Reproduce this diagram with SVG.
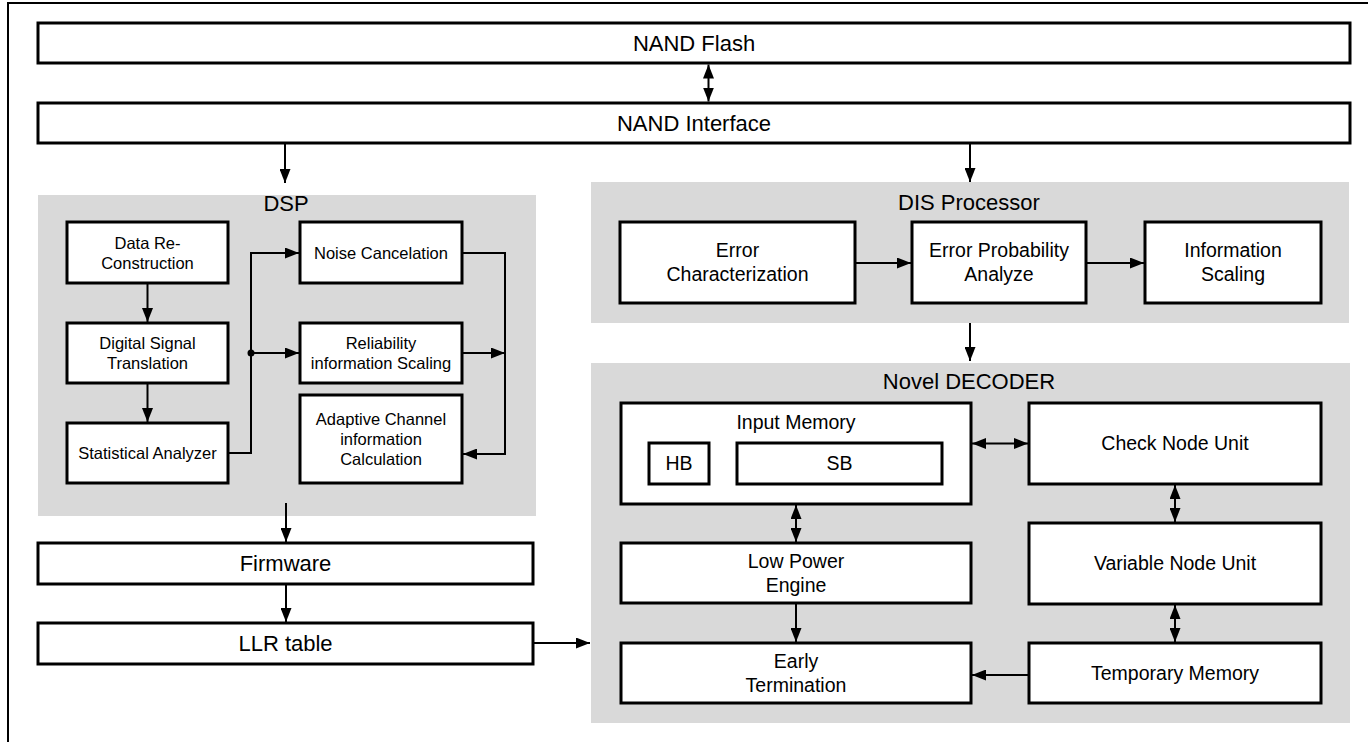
<svg xmlns="http://www.w3.org/2000/svg" width="1368" height="742" viewBox="0 0 1368 742">
  <style>
    .frame { fill: none; stroke: #000; stroke-width: 2; }
    .panel { fill: #d9d9d9; stroke: none; }
    .box { fill: #fff; stroke: #000; stroke-width: 3; }
    .wire { fill: none; stroke: #000; stroke-width: 2; }
    text { font-family: "Liberation Sans", Arial, sans-serif; fill: #000; text-anchor: middle; }
    .big { font-size: 22px; }
    .mid { font-size: 19.5px; }
    .small { font-size: 16.5px; }
  </style>
  <defs>
    <marker id="arrow" markerUnits="userSpaceOnUse" markerWidth="14" markerHeight="11" refX="14" refY="5.5" orient="auto-start-reverse">
      <path d="M0,0 L14,5.5 L0,11 z" fill="#000"/>
    </marker>
  </defs>

  <rect width="1368" height="742" fill="#fff"/>
  <!-- outer border -->
  <path class="frame" d="M8,742 V3 H1368"/>

  <!-- top bus -->
  <g id="nand-flash">
    <rect class="box" x="38" y="23" width="1312" height="40"/>
    <text class="big" x="694" y="51">NAND Flash</text>
  </g>
  <g id="nand-interface">
    <rect class="box" x="38" y="103" width="1312" height="40"/>
    <text class="big" x="694" y="131">NAND Interface</text>
  </g>

  <!-- DSP block -->
  <g id="dsp">
    <rect class="panel" x="38" y="195" width="498" height="321"/>
    <text class="big" x="286" y="211">DSP</text>
  </g>
  <g id="data-reconstruction">
    <rect class="box" x="67" y="222" width="161" height="61"/>
    <text class="small" x="147.5" y="249">Data Re-</text>
    <text class="small" x="147.5" y="269">Construction</text>
  </g>
  <g id="digital-signal-translation">
    <rect class="box" x="67" y="323" width="161" height="60"/>
    <text class="small" x="147.5" y="349">Digital Signal</text>
    <text class="small" x="147.5" y="369">Translation</text>
  </g>
  <g id="statistical-analyzer">
    <rect class="box" x="67" y="423" width="161" height="60"/>
    <text class="small" x="147.5" y="459">Statistical Analyzer</text>
  </g>
  <g id="noise-cancelation">
    <rect class="box" x="300" y="222" width="162" height="61"/>
    <text class="small" x="381" y="258.5">Noise Cancelation</text>
  </g>
  <g id="reliability-scaling">
    <rect class="box" x="300" y="323" width="162" height="60"/>
    <text class="small" x="381" y="349">Reliability</text>
    <text class="small" x="381" y="369">information Scaling</text>
  </g>
  <g id="adaptive-channel">
    <rect class="box" x="300" y="395" width="162" height="88"/>
    <text class="small" x="381" y="425">Adaptive Channel</text>
    <text class="small" x="381" y="445">information</text>
    <text class="small" x="381" y="465">Calculation</text>
  </g>

  <!-- firmware path -->
  <g id="firmware">
    <rect class="box" x="38" y="543" width="495" height="41"/>
    <text class="big" x="285.5" y="571">Firmware</text>
  </g>
  <g id="llr-table">
    <rect class="box" x="38" y="623" width="495" height="41"/>
    <text class="big" x="285.5" y="651">LLR table</text>
  </g>

  <!-- DIS processor -->
  <g id="dis-processor">
    <rect class="panel" x="591" y="182" width="758" height="141"/>
    <text class="big" x="969" y="210">DIS Processor</text>
  </g>
  <g id="error-characterization">
    <rect class="box" x="620" y="222" width="235" height="81"/>
    <text class="mid" x="737.5" y="257">Error</text>
    <text class="mid" x="737.5" y="281">Characterization</text>
  </g>
  <g id="error-probability">
    <rect class="box" x="912" y="222" width="174" height="81"/>
    <text class="mid" x="999" y="257">Error Probability</text>
    <text class="mid" x="999" y="281">Analyze</text>
  </g>
  <g id="information-scaling">
    <rect class="box" x="1145" y="222" width="176" height="81"/>
    <text class="mid" x="1233" y="257">Information</text>
    <text class="mid" x="1233" y="281">Scaling</text>
  </g>

  <!-- decoder -->
  <g id="novel-decoder">
    <rect class="panel" x="591" y="363" width="759" height="360"/>
    <text class="big" x="969" y="389">Novel DECODER</text>
  </g>
  <g id="input-memory">
    <rect class="box" x="621" y="403" width="350" height="101"/>
    <text class="mid" x="796" y="429">Input Memory</text>
  </g>
  <g id="hb">
    <rect class="box" x="649" y="443" width="60" height="41"/>
    <text class="mid" x="679" y="470">HB</text>
  </g>
  <g id="sb">
    <rect class="box" x="737" y="443" width="205" height="41"/>
    <text class="mid" x="839.5" y="470">SB</text>
  </g>
  <g id="low-power-engine">
    <rect class="box" x="621" y="543" width="350" height="60"/>
    <text class="mid" x="796" y="568">Low Power</text>
    <text class="mid" x="796" y="592">Engine</text>
  </g>
  <g id="early-termination">
    <rect class="box" x="621" y="643" width="350" height="60"/>
    <text class="mid" x="796" y="668">Early</text>
    <text class="mid" x="796" y="692">Termination</text>
  </g>
  <g id="check-node-unit">
    <rect class="box" x="1029" y="403" width="292" height="81"/>
    <text class="mid" x="1175" y="450">Check Node Unit</text>
  </g>
  <g id="variable-node-unit">
    <rect class="box" x="1029" y="523" width="292" height="81"/>
    <text class="mid" x="1175" y="570">Variable Node Unit</text>
  </g>
  <g id="temporary-memory">
    <rect class="box" x="1029" y="643" width="292" height="60"/>
    <text class="mid" x="1175" y="680">Temporary Memory</text>
  </g>

  <!-- connectors -->
  <g id="connectors">
    <line class="wire" x1="708.5" y1="64.5" x2="708.5" y2="101.5" marker-start="url(#arrow)" marker-end="url(#arrow)"/>
    <line class="wire" x1="285" y1="144" x2="285" y2="183" marker-end="url(#arrow)"/>
    <line class="wire" x1="970" y1="144" x2="970" y2="182" marker-end="url(#arrow)"/>

    <line class="wire" x1="147.5" y1="284" x2="147.5" y2="322" marker-end="url(#arrow)"/>
    <line class="wire" x1="147.5" y1="384" x2="147.5" y2="422" marker-end="url(#arrow)"/>
    <path class="wire" d="M229,453 H251 V253 H299" marker-end="url(#arrow)"/>
    <line class="wire" x1="251" y1="353" x2="299" y2="353" marker-end="url(#arrow)"/>
    <circle cx="251" cy="353" r="3.5" fill="#000"/>
    <path class="wire" d="M463,253 H505 V454 H463" marker-end="url(#arrow)"/>
    <line class="wire" x1="463" y1="353" x2="505" y2="353" marker-end="url(#arrow)"/>

    <line class="wire" x1="286" y1="503" x2="286" y2="542" marker-end="url(#arrow)"/>
    <line class="wire" x1="286" y1="585" x2="286" y2="622" marker-end="url(#arrow)"/>
    <line class="wire" x1="534" y1="643" x2="590" y2="643" marker-end="url(#arrow)"/>

    <line class="wire" x1="856" y1="263" x2="911" y2="263" marker-end="url(#arrow)"/>
    <line class="wire" x1="1087" y1="263" x2="1144" y2="263" marker-end="url(#arrow)"/>
    <line class="wire" x1="970" y1="323" x2="970" y2="361" marker-end="url(#arrow)"/>

    <line class="wire" x1="972" y1="443.5" x2="1028" y2="443.5" marker-start="url(#arrow)" marker-end="url(#arrow)"/>
    <line class="wire" x1="796" y1="505" x2="796" y2="542" marker-start="url(#arrow)" marker-end="url(#arrow)"/>
    <line class="wire" x1="796" y1="604" x2="796" y2="642" marker-end="url(#arrow)"/>
    <line class="wire" x1="1175" y1="485" x2="1175" y2="522" marker-start="url(#arrow)" marker-end="url(#arrow)"/>
    <line class="wire" x1="1175" y1="605" x2="1175" y2="642" marker-start="url(#arrow)" marker-end="url(#arrow)"/>
    <line class="wire" x1="1028" y1="675" x2="972" y2="675" marker-end="url(#arrow)"/>
  </g>
</svg>
